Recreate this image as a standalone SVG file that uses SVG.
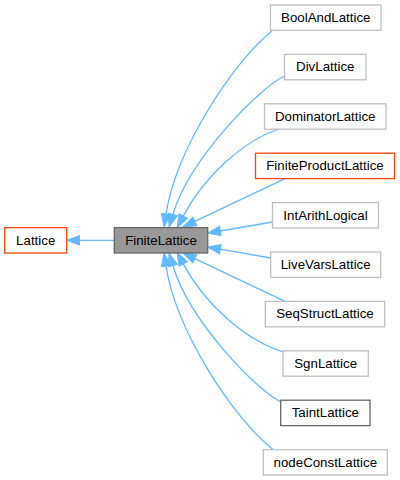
<svg xmlns="http://www.w3.org/2000/svg" width="400" height="480" viewBox="0 0 400 480">
<style>
  .n rect { fill: #ffffff; stroke: #bfbfbf; stroke-width: 1.3; }
  .n text { font-family: "Liberation Sans", Arial, Helvetica, sans-serif; font-size: 13.3px; fill: #000000; text-anchor: middle; }
  .n.hl rect { stroke: #ff4500; }
  .n.dk rect { stroke: #666666; }
  .n.cur rect { fill: #999999; stroke: #666666; }
  .e path { fill: none; stroke: #63b8ff; stroke-width: 1.3; marker-end: url(#ah); }
</style>
<defs>
  <marker id="ah" markerUnits="userSpaceOnUse" markerWidth="14" markerHeight="10" refX="0" refY="5" orient="auto" overflow="visible">
    <path d="M0,0.3 L13,5 L0,9.7 z" fill="#63b8ff" stroke="#63b8ff" stroke-width="1"/>
  </marker>
</defs>
<rect width="400" height="480" fill="#ffffff"/>
<g id="edges" class="e">
  <path d="M114.3,240.3 L79.5,240.3"/>
  <path d="M272,31 C232,63 176,150 166,214"/>
  <path d="M284.5,76 C262,86 190.2,156.9 172.8,214.5"/>
  <path d="M278,129.5 C245,140 205,175 183.2,216.1"/>
  <path d="M285,178.6 L194.75,221.4"/>
  <path d="M272.5,222 L220.3,231"/>
  <path d="M270.7,258 L220.3,249.2"/>
  <path d="M285,301.4 L194.75,258.6"/>
  <path d="M283.5,352 C247,341 205,305 183.2,263.9"/>
  <path d="M281,402 C259,392 190.2,323.1 172.8,265.5"/>
  <path d="M273,449.5 C232,417 176,330 166,266"/>
</g>
<g id="Lattice" class="n hl"><rect x="4.7" y="227.6" width="62" height="25.4"/><text x="35.7" y="245">Lattice</text></g>
<g id="FiniteLattice" class="n cur"><rect x="114.3" y="227.6" width="93.4" height="25.4"/><text x="161" y="245">FiniteLattice</text></g>
<g id="BoolAndLattice" class="n"><rect x="270.5" y="5" width="110.5" height="25.4"/><text x="325.75" y="22">BoolAndLattice</text></g>
<g id="DivLattice" class="n"><rect x="284.5" y="54.4" width="81.5" height="25.4"/><text x="325.25" y="71.4">DivLattice</text></g>
<g id="DominatorLattice" class="n"><rect x="264.5" y="103.8" width="121.5" height="25.4"/><text x="325.25" y="120.8">DominatorLattice</text></g>
<g id="FiniteProductLattice" class="n hl"><rect x="255.5" y="153.2" width="139" height="25.4"/><text x="325" y="170.2">FiniteProductLattice</text></g>
<g id="IntArithLogical" class="n"><rect x="272.5" y="202.6" width="106" height="25.4"/><text x="325.5" y="219.6">IntArithLogical</text></g>
<g id="LiveVarsLattice" class="n"><rect x="270.7" y="252" width="110" height="25.4"/><text x="325.7" y="269">LiveVarsLattice</text></g>
<g id="SeqStructLattice" class="n"><rect x="265.3" y="301.4" width="119.4" height="25.4"/><text x="325" y="318.4">SeqStructLattice</text></g>
<g id="SgnLattice" class="n"><rect x="283" y="350.8" width="85.3" height="25.4"/><text x="325.65" y="367.8">SgnLattice</text></g>
<g id="TaintLattice" class="n dk"><rect x="280.7" y="400.2" width="89.3" height="25.4"/><text x="325.35" y="417.2">TaintLattice</text></g>
<g id="nodeConstLattice" class="n"><rect x="263.3" y="449.6" width="124" height="25.4"/><text x="325.3" y="466.6">nodeConstLattice</text></g>
</svg>
